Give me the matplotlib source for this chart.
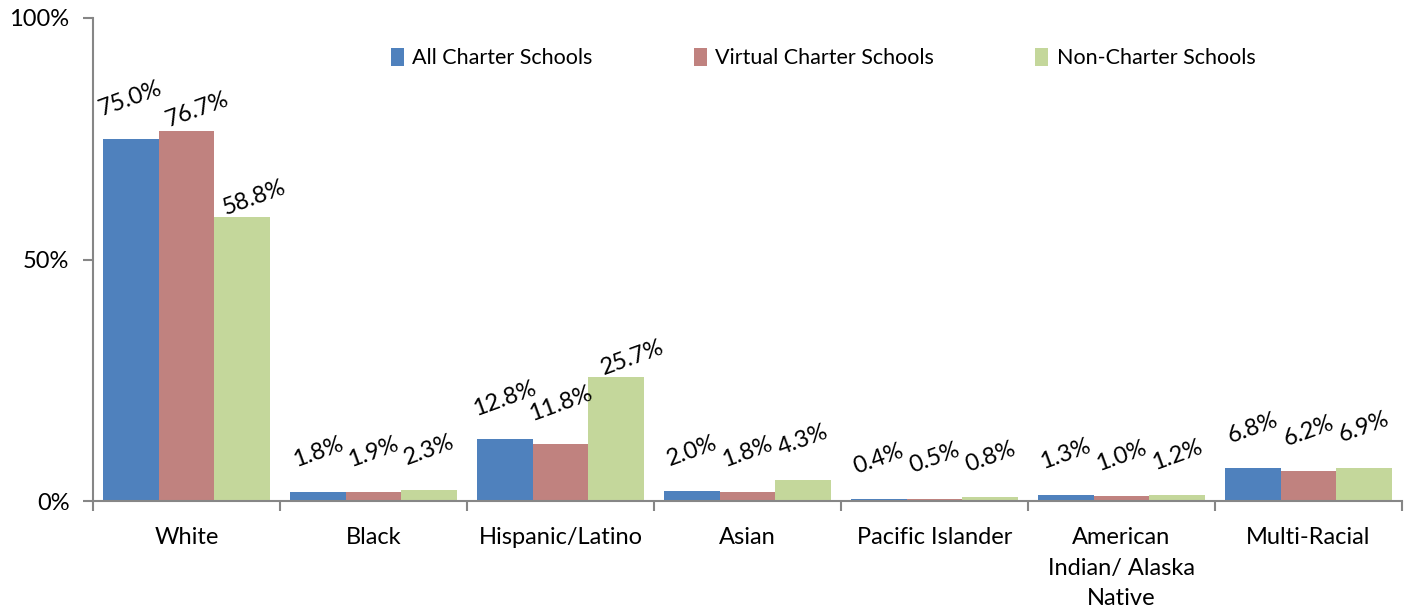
import numpy as np
import matplotlib
matplotlib.use("Agg")
import matplotlib.pyplot as plt

# ── Data ───────────────────────────────────────────────────────────────────────
categories = ["White", "Black", "Hispanic/Latino", "Asian", "Pacific Islander",
              "American\nIndian/ Alaska\nNative", "Multi-Racial"]
series_names = ["All Charter Schools", "Virtual Charter Schools", "Non-Charter Schools"]
all_charter = [75.0, 1.8, 12.8, 2.0, 0.4, 1.3, 6.8]
virtual_charter = [76.7, 1.9, 11.8, 1.8, 0.5, 1.0, 6.2]
non_charter = [58.8, 2.3, 25.7, 4.3, 0.8, 1.2, 6.9]
y_ticks = [0, 50, 100]

colors = ["#4F81BD", "#C0827F", "#C4D79B"]
axis_col = "#868686"

# label nudges (series index, category index) -> offset in points
default_offset = (0, 29)
label_nudge = {(1, 0): (8, 15), (2, 0): (9, 14), (2, 2): (12, 14)}

plt.rcParams["font.family"] = ["Lato", "DejaVu Sans"]

fig = plt.figure(figsize=(14.11, 6.15), dpi=100)
ax = fig.add_axes([93 / 1411, 114 / 615, 1309 / 1411, 483 / 615])

x = np.arange(len(categories))
width = 0.298
series = [all_charter, virtual_charter, non_charter]

for i, (vals, name, col) in enumerate(zip(series, series_names, colors)):
    pos = x + (i - 1) * width
    ax.bar(pos, vals, width, color=col, label=name)
    for j, (px, v) in enumerate(zip(pos, vals)):
        off = label_nudge.get((i, j), default_offset)
        ax.annotate(f"{v:.1f}%", (px, v), xytext=off, textcoords="offset points",
                    ha="center", va="center", rotation=20, rotation_mode="anchor",
                    fontsize=17, color="black")

ax.set_xlim(-0.5, len(categories) - 0.5)
ax.set_ylim(0, 100)

ax.set_yticks(y_ticks)
ax.set_yticklabels([f"{t}%" for t in y_ticks])
ax.set_xticks(x)
ax.set_xticklabels(categories, fontsize=17, linespacing=1.55)
ax.set_xticks(np.arange(len(categories) + 1) - 0.5, minor=True)
ax.tick_params(axis="x", which="major", length=0, pad=19)
ax.tick_params(axis="x", which="minor", length=7, color=axis_col, width=1.5, direction="out")
ax.tick_params(axis="y", length=7, color=axis_col, width=1.5, pad=10, labelsize=17)

for side in ["top", "right"]:
    ax.spines[side].set_visible(False)
for side in ["left", "bottom"]:
    ax.spines[side].set_color(axis_col)
    ax.spines[side].set_linewidth(1.5)

leg = fig.legend(loc="center left", bbox_to_anchor=(382 / 1411, 1 - 58 / 615), ncol=3,
                 frameon=False, fontsize=15.5, handlelength=0.6, handleheight=0.9,
                 handletextpad=0.4, columnspacing=4.7, borderaxespad=0)

fig.savefig("out.png", dpi=100)
